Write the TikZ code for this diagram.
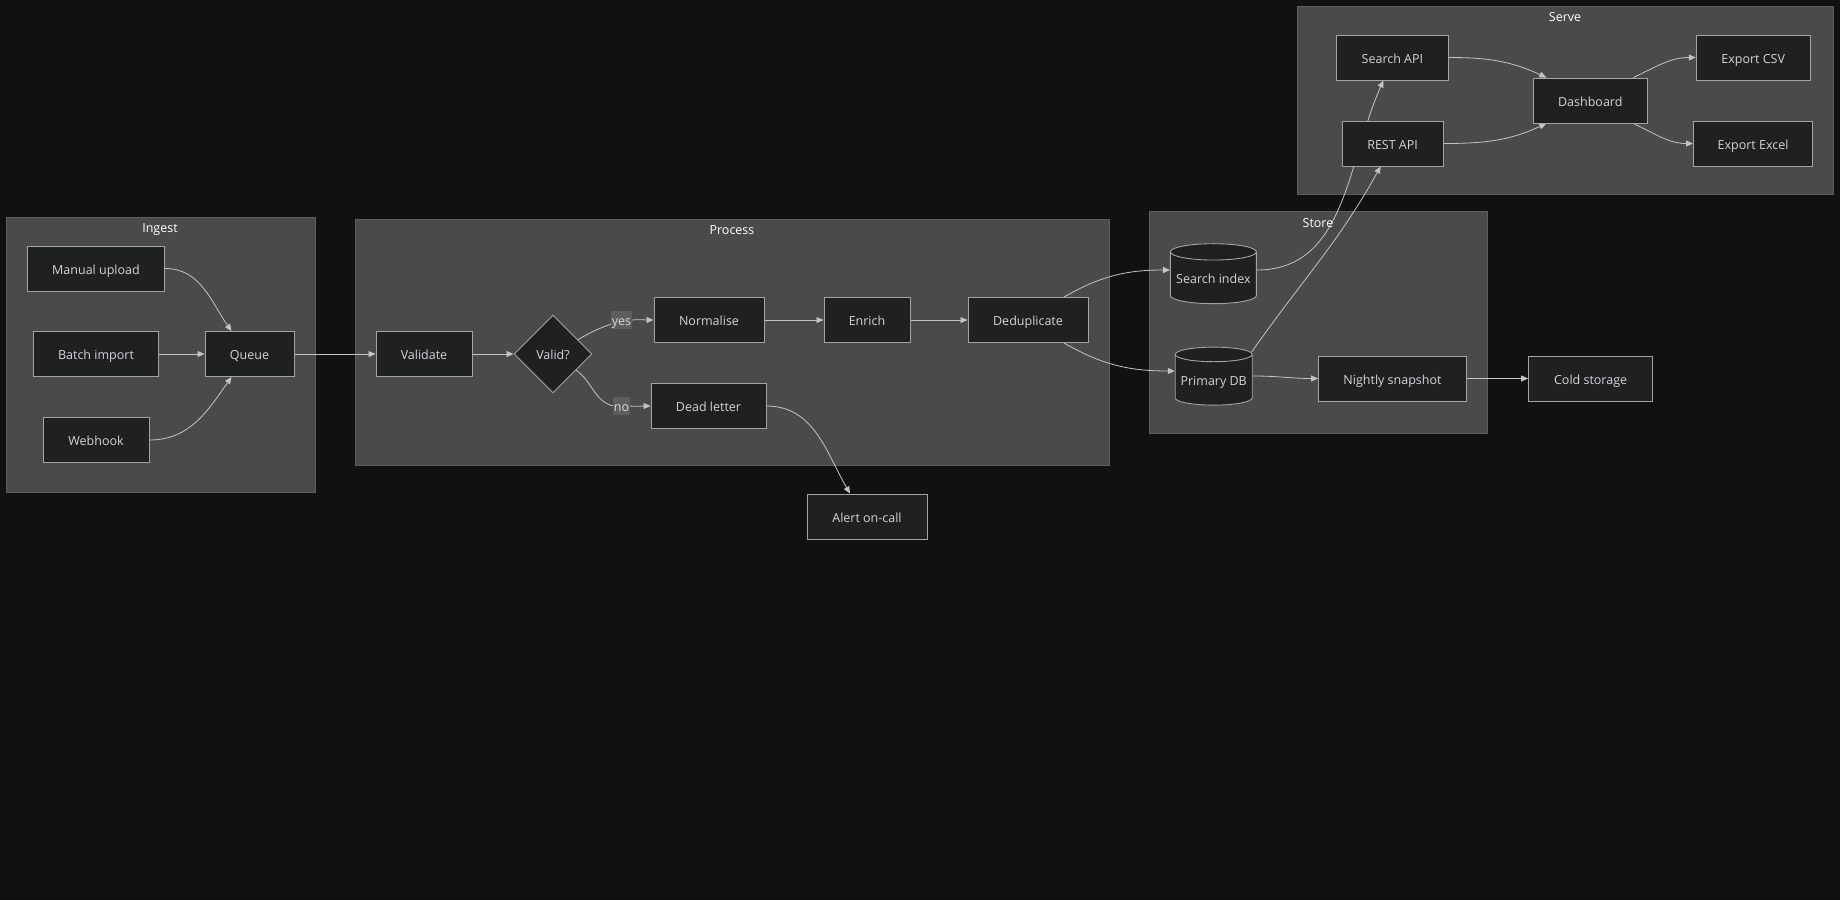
\documentclass[tikz,border=0pt]{standalone}
\usepackage{fontspec}
\setmainfont{Open Sans}
\usetikzlibrary{shapes,arrows.meta,positioning}
\definecolor{bgc}{HTML}{111111}
\definecolor{clusterc}{HTML}{4A4A4A}
\definecolor{clusterline}{HTML}{5E5E5E}
\definecolor{nodec}{HTML}{1F2020}
\definecolor{nodeline}{HTML}{A4A4A4}
\definecolor{txtc}{HTML}{D2D6DA}
\definecolor{edgec}{HTML}{C4C4C4}
\definecolor{lblc}{HTML}{5E5E5E}
\pgfdeclarelayer{back}
\pgfdeclarelayer{wires}
\pgfsetlayers{back,wires,main}

\begin{document}
\begin{tikzpicture}[x=1pt,y=1pt]
\tikzstyle{every node}+=[inner sep=0pt,font=\fontsize{12.5}{15}\selectfont,text=txtc,text height=12pt,text depth=1pt]
\tikzstyle{box}=[draw=nodeline,fill=nodec,line width=0.9pt,minimum height=45pt]
\tikzstyle{db}=[cylinder,shape border rotate=90,aspect=0.22,draw=nodeline,fill=nodec,line width=0.9pt]
\tikzstyle{decision}=[diamond,draw=nodeline,fill=nodec,line width=0.9pt,minimum width=78pt,minimum height=78pt]
\tikzstyle{cluster}=[draw=clusterline,fill=clusterc,line width=0.9pt]
\tikzstyle{title}=[text=white]
\tikzstyle{flow}=[draw=edgec,line width=0.8pt,-{Triangle[length=7pt,width=6pt]}]
\tikzstyle{plain}=[draw=edgec,line width=0.8pt]
\tikzstyle{edgelabel}=[fill=lblc,inner xsep=0.5pt,inner ysep=2.5pt,text=txtc!90!white]
\useasboundingbox (0,0) rectangle (1840,-900);
\begin{pgfonlayer}{back}
\fill [bgc] (0,0) rectangle (1840,-900);
\draw [cluster] (6,-217) rectangle (315,-492);
\draw [cluster] (355,-219) rectangle (1109,-465);
\draw [cluster] (1149.6,-211) rectangle (1487.5,-433);
\draw [cluster] (1297.7,-6) rectangle (1833,-194);
\end{pgfonlayer}
\node [title] (ingestT) at (160,-227) {Ingest};
\node [title] (processT) at (732,-229) {Process};
\node [title] (storeT) at (1318,-222) {Store};
\node [title] (serveT) at (1565,-16) {Serve};
\node [box,minimum width=137pt] (mu) at (96,-268.5) {Manual upload};
\node [box,minimum width=125pt] (bi) at (96,-354) {Batch import};
\node [box,minimum width=106pt] (wh) at (96,-440) {Webhook};
\node [box,minimum width=89pt] (q) at (249.5,-354) {Queue};
\node [box,minimum width=96pt] (val) at (424,-354) {Validate};
\node [decision] (chk) at (553,-354) {Valid?};
\node [box,minimum width=110pt] (norm) at (709,-320) {Normalise};
\node [box,minimum width=115pt] (dl) at (708.5,-406) {Dead letter};
\node [box,minimum width=86pt] (enr) at (867,-320) {Enrich};
\node [box,minimum width=120pt] (dd) at (1028,-320) {Deduplicate};
\node [box,minimum width=120pt] (alert) at (867,-516.5) {Alert on-call};
\node [db,minimum width=86pt,minimum height=60pt] (si) at (1213.4,-278) {Search index};
\node [db,minimum width=77pt,minimum height=58pt] (pdb) at (1213.7,-380) {Primary DB};
\node [box,minimum width=148pt] (snap) at (1392.5,-378.5) {Nightly snapshot};
\node [box,minimum width=124pt] (cold) at (1590.6,-378.5) {Cold storage};
\node [box,minimum width=112pt] (sapi) at (1392.4,-57.5) {Search API};
\node [box,minimum width=101pt] (rest) at (1392.6,-143.5) {REST API};
\node [box,minimum width=114pt] (dash) at (1590.3,-100.5) {Dashboard};
\node [box,minimum width=114pt] (csv) at (1753.2,-57.5) {Export CSV};
\node [box,minimum width=119pt] (xls) at (1753,-143.5) {Export Excel};
\node [edgelabel] (yes) at (621.5,-320) {yes};
\node [edgelabel] (no) at (621.5,-406) {no};
\begin{pgfonlayer}{wires}
\draw [flow] (mu.east) to[out=0,in=125] ([xshift=-18pt]q.north);
\draw [flow] (bi.east) -- (q.west);
\draw [flow] (wh.east) to[out=0,in=-125] ([xshift=-18pt]q.south);
\draw [flow] (q.east) -- (val.west);
\draw [flow] (val.east) -- (chk.west);
\draw [plain] (chk) to[out=30,in=200] ([yshift=-4pt]yes.west);
\draw [flow] (yes.east) to[out=5,in=180] (norm.west);
\draw [plain] (chk) to[out=-35,in=165] (no.west);
\draw [flow] (no.east) to[out=-5,in=180] (dl.west);
\draw [flow] (norm.east) -- (enr.west);
\draw [flow] (enr.east) -- (dd.west);
\draw [flow] (dl.east) to[out=0,in=120] ([xshift=-17pt]alert.north);
\draw [flow] ([xshift=36pt]dd.north) to[out=30,in=180] ([yshift=8pt]si.west);
\draw [flow] ([xshift=36pt]dd.south) to[out=-30,in=180] ([yshift=9pt]pdb.west);
\draw [flow] ([shift={(39pt,4pt)}]pdb.center) to[out=0,in=180] (snap.west);
\draw [flow] (snap.east) -- (cold.west);
\draw [flow] ([yshift=8pt]si.east) to[out=0,in=-114] ([xshift=-9pt]sapi.south);
\draw [flow] ([shift={(38pt,28pt)}]pdb.center) to[out=55,in=-119] ([xshift=-12pt]rest.south);
\draw [flow] (sapi.east) to[out=0,in=155] ([xshift=-44pt]dash.north);
\draw [flow] (rest.east) to[out=0,in=-155] ([xshift=-44pt]dash.south);
\draw [flow] ([xshift=43pt]dash.north) to[out=25,in=180] (csv.west);
\draw [flow] ([xshift=43pt]dash.south) to[out=-25,in=180] (xls.west);
\end{pgfonlayer}
\end{tikzpicture}
\end{document}
